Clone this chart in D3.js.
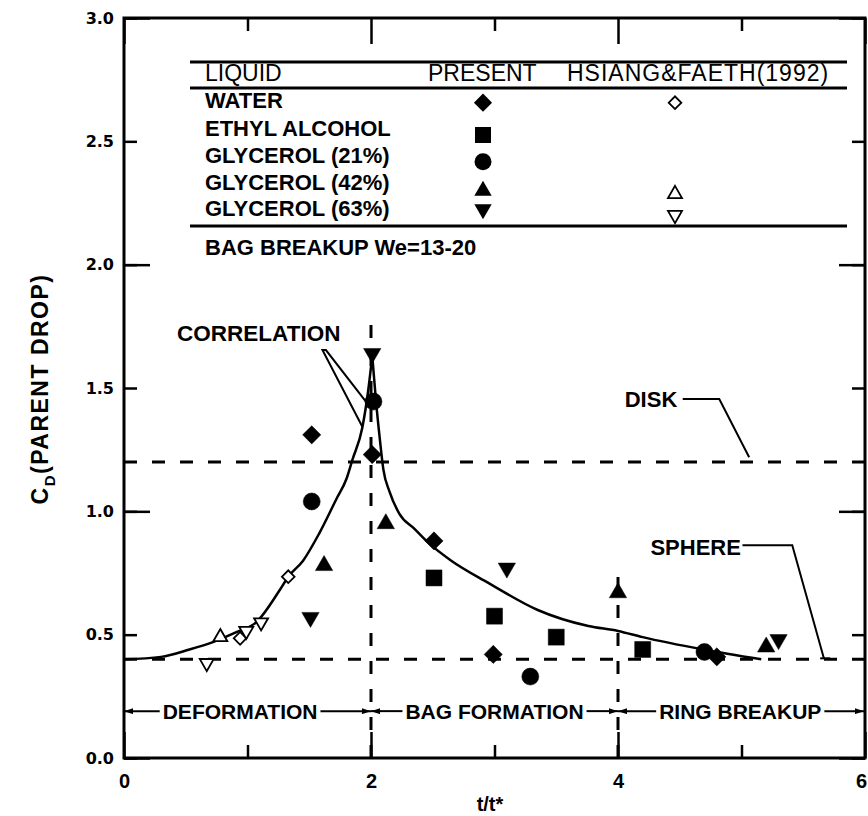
<!DOCTYPE html>
<html>
<head>
<meta charset="utf-8">
<script src="https://cdn.jsdelivr.net/npm/d3@7"></script>
<style>
  body { margin: 0; background: #fff; }
  text { font-family: "Liberation Sans", Arial, sans-serif; fill: #000; }
</style>
</head>
<body>
<svg id="chart" width="868" height="816"></svg>
<script>
// present study: [t/t*, C_D]
const water = [[1.52, 1.31], [2.01, 1.23], [2.51, 0.88], [2.99, 0.42], [4.80, 0.41]];
const ethylAlcohol = [[2.51, 0.73], [3.00, 0.575], [3.50, 0.49], [4.20, 0.44]];
const glycerol21 = [[1.52, 1.04], [2.02, 1.445], [3.29, 0.33], [4.70, 0.43]];
const glycerol42 = [[1.62, 0.78], [2.12, 0.95], [4.00, 0.67], [5.20, 0.45]];
const glycerol63 = [[1.51, 0.57], [2.01, 1.64], [3.10, 0.77], [5.30, 0.48]];

// Hsiang & Faeth (1992), open symbols
const hfWater = [[0.94, 0.485], [1.33, 0.735]];
const hfGlycerol42 = [[0.78, 0.49]];
const hfGlycerol63 = [[0.67, 0.385], [0.99, 0.515], [1.11, 0.55]];

// correlation curve, two branches meeting at the peak
const corrRise = [[0, 0.40], [0.3, 0.41], [0.53, 0.44], [0.72, 0.47], [0.91, 0.51], [1.07, 0.55],
  [1.26, 0.68], [1.33, 0.735], [1.45, 0.80], [1.58, 0.91], [1.72, 1.05], [1.80, 1.13],
  [1.85, 1.21], [1.93, 1.34], [1.98, 1.50], [2.01, 1.63]];
const corrFall = [[2.01, 1.63], [2.04, 1.45], [2.07, 1.30], [2.10, 1.17], [2.15, 1.08], [2.23, 0.99],
  [2.35, 0.93], [2.47, 0.87], [2.65, 0.80], [2.95, 0.71], [3.35, 0.60], [3.76, 0.535],
  [4.0, 0.515], [4.2, 0.49], [4.69, 0.44], [5.16, 0.40]];

// reference levels and regime boundaries
const diskCd = 1.2;
const sphereCd = 0.4;
const regimeLines = [[2, 1.77], [4, 0.75]];
const regimes = ["DEFORMATION", "BAG FORMATION", "RING BREAKUP"];
const regimeBounds = [[0, 2], [2, 4], [4, 6]];
const regimeCenters = [0.94, 3.0, 4.99];
const regimeLevel = 0.19;

// ticks
const xLabelTicks = [0, 2, 4, 6];
const xMinorTicks = [1, 3, 5];
const yLabelTicks = [0, 0.5, 1, 1.5, 2, 2.5, 3];
const yMajorTicks = [0, 1, 2, 3];

// legend
const legendHeader = ["LIQUID", "PRESENT", "HSIANG&FAETH(1992)"];
const liquids = ["WATER", "ETHYL ALCOHOL", "GLYCEROL (21%)", "GLYCEROL (42%)", "GLYCEROL (63%)"];
const presentShapes = ["diamond", "square", "circle", "up", "down"];

const svg = d3.select("#chart");
const x = d3.scaleLinear().domain([0, 6]).range([124, 865]);
const y = d3.scaleLinear().domain([0, 3]).range([758, 18]);

// symbol helper
function symbolPath(kind, area) {
  const type = {diamond: d3.symbolSquare, square: d3.symbolSquare, circle: d3.symbolCircle,
    up: d3.symbolTriangle, down: d3.symbolTriangle}[kind];
  return d3.symbol(type, area)();
}
const rot = {diamond: 45, square: 0, circle: 0, up: 0, down: 180};
const filledArea = {diamond: 165, square: 256, circle: 227, up: 130, down: 130};
const openArea = {diamond: 80, up: 85, down: 85};

function drawPoints(g, data, kind, filled) {
  g.selectAll(null).data(data).enter().append("path")
    .attr("d", symbolPath(kind, filled ? filledArea[kind] : openArea[kind]))
    .attr("transform", d => `translate(${x(d[0])},${y(d[1])}) rotate(${rot[kind]})`)
    .attr("fill", filled ? "#000" : "#fff")
    .attr("stroke", "#000")
    .attr("stroke-width", filled ? 0.5 : 1.8);
}

// dashed reference lines
const guides = svg.append("g").attr("stroke", "#000").attr("stroke-width", 3)
  .attr("stroke-dasharray", "13,15");
[diskCd, sphereCd].forEach(v => {
  guides.append("line").attr("x1", x(0)).attr("x2", x(6)).attr("y1", y(v)).attr("y2", y(v));
});
regimeLines.forEach(([xv, top]) => {
  guides.append("line").attr("x1", x(xv)).attr("x2", x(xv)).attr("y1", y(0)).attr("y2", y(top));
});

// correlation curve
const line = d3.line().x(d => x(d[0])).y(d => y(d[1])).curve(d3.curveMonotoneX);
[corrRise, corrFall].forEach(branch => {
  svg.append("path").attr("d", line(branch)).attr("fill", "none")
    .attr("stroke", "#000").attr("stroke-width", 2.5);
});

// data
const pts = svg.append("g");
drawPoints(pts, hfWater, "diamond", false);
drawPoints(pts, hfGlycerol42, "up", false);
drawPoints(pts, hfGlycerol63, "down", false);
drawPoints(pts, water, "diamond", true);
drawPoints(pts, ethylAlcohol, "square", true);
drawPoints(pts, glycerol21, "circle", true);
drawPoints(pts, glycerol42, "up", true);
drawPoints(pts, glycerol63, "down", true);

// frame and ticks
function styleAxis(g) {
  g.select(".domain").remove();
  g.selectAll(".tick line").attr("stroke", "#000").attr("stroke-width", 2.5);
}
svg.append("g").attr("transform", `translate(${x(0)},0)`)
  .call(d3.axisLeft(y).tickValues(yLabelTicks).tickFormat(d3.format(".1f")).tickSizeInner(-13).tickSizeOuter(0).tickPadding(10))
  .call(styleAxis)
  .selectAll("text").style("font-family", "'DejaVu Sans', sans-serif").style("font-weight", "bold").style("font-size", "16px");
svg.append("g").attr("transform", `translate(${x(0)},0)`)
  .call(d3.axisLeft(y).tickValues(yMajorTicks).tickFormat("").tickSize(-26)).call(styleAxis);
svg.append("g").attr("transform", `translate(${x(6)},0)`)
  .call(d3.axisRight(y).tickValues(yLabelTicks).tickFormat("").tickSize(-13)).call(styleAxis);
svg.append("g").attr("transform", `translate(${x(6)},0)`)
  .call(d3.axisRight(y).tickValues(yMajorTicks).tickFormat("").tickSize(-26)).call(styleAxis);

svg.append("g").attr("transform", `translate(0,${y(0)})`)
  .call(d3.axisBottom(x).tickValues(xLabelTicks).tickFormat(d3.format("d")).tickSizeInner(-26).tickSizeOuter(0).tickPadding(16))
  .call(styleAxis)
  .selectAll("text")
  .style("font-family", "'Liberation Sans', Arial, sans-serif").style("font-weight", "bold").style("font-size", "20px")
  .attr("dx", d => d === 6 ? -4 : 0);
svg.append("g").attr("transform", `translate(0,${y(0)})`)
  .call(d3.axisBottom(x).tickValues(xMinorTicks).tickFormat("").tickSize(-13)).call(styleAxis);
svg.append("g").attr("transform", `translate(0,${y(3)})`)
  .call(d3.axisTop(x).tickValues(xLabelTicks).tickFormat("").tickSize(-26)).call(styleAxis);
svg.append("g").attr("transform", `translate(0,${y(3)})`)
  .call(d3.axisTop(x).tickValues(xMinorTicks).tickFormat("").tickSize(-13)).call(styleAxis);

svg.append("rect").attr("x", x(0)).attr("y", y(3)).attr("width", x(6) - x(0)).attr("height", y(0) - y(3))
  .attr("fill", "none").attr("stroke", "#000").attr("stroke-width", 3);

// axis titles
svg.append("text").attr("x", 490).attr("y", 811).attr("text-anchor", "middle")
  .attr("font-weight", "bold").attr("font-size", 20).text("t/t*");
const yTitle = svg.append("text").attr("transform", "translate(48,389) rotate(-90)")
  .attr("text-anchor", "middle").attr("font-weight", "bold").attr("font-size", 23)
  .attr("letter-spacing", 1.5);
yTitle.append("tspan").text("C");
yTitle.append("tspan").attr("dy", 7).attr("font-size", 15).text("D");
yTitle.append("tspan").attr("dy", -7).text("(PARENT DROP)");

// annotations
const ann = svg.append("g").attr("stroke", "#000").attr("stroke-width", 2).attr("fill", "none");
const ptLine = d3.line().x(d => x(d[0])).y(d => y(d[1]));
ann.append("path").attr("d", ptLine([[1.930, 1.343], [1.607, 1.654], [1.635, 1.654], [1.970, 1.438]]));
ann.append("path").attr("d", ptLine([[4.524, 1.455], [4.820, 1.455], [5.062, 1.219]]));
ann.append("path").attr("d", ptLine([[5.008, 0.863], [5.411, 0.863], [5.667, 0.404]]));
ann.append("path").attr("d", ptLine([[5.637, 0.404], [5.718, 0.404]]));

svg.append("text").attr("x", x(0.43)).attr("y", y(1.723)).attr("dy", "0.36em")
  .attr("font-weight", "bold").attr("font-size", 22.5).text("CORRELATION");
svg.append("text").attr("x", x(4.48)).attr("y", y(1.455)).attr("dy", "0.36em").attr("text-anchor", "end")
  .attr("font-weight", "bold").attr("font-size", 22).text("DISK");
svg.append("text").attr("x", x(4.995)).attr("y", y(0.855)).attr("dy", "0.36em").attr("text-anchor", "end")
  .attr("font-weight", "bold").attr("font-size", 22).text("SPHERE");

// regime arrows
svg.append("defs").append("marker").attr("id", "arrow")
  .attr("viewBox", "0 0 9 6").attr("refX", 9).attr("refY", 3)
  .attr("markerWidth", 9).attr("markerHeight", 6).attr("markerUnits", "userSpaceOnUse")
  .attr("orient", "auto-start-reverse")
  .append("path").attr("d", "M0,0L9,3L0,6Z").attr("fill", "#000");

regimes.forEach((label, i) => {
  const [a, b] = regimeBounds[i];
  const t = svg.append("text").attr("x", x(regimeCenters[i])).attr("y", y(regimeLevel)).attr("dy", "0.36em")
    .attr("text-anchor", "middle").attr("font-weight", "bold").attr("font-size", 21).text(label);
  const w = t.node().getComputedTextLength();
  const left = x(regimeCenters[i]) - w / 2 - 3, right = x(regimeCenters[i]) + w / 2 + 3;
  svg.append("line").attr("x1", left).attr("x2", x(a)).attr("y1", y(regimeLevel)).attr("y2", y(regimeLevel))
    .attr("stroke", "#000").attr("stroke-width", 2).attr("marker-end", "url(#arrow)");
  svg.append("line").attr("x1", right).attr("x2", x(b) - (i === 2 ? 1 : 0)).attr("y1", y(regimeLevel)).attr("y2", y(regimeLevel))
    .attr("stroke", "#000").attr("stroke-width", 2).attr("marker-end", "url(#arrow)");
});

// legend table
const lg = svg.append("g");
[62, 88, 226].forEach(ry => {
  lg.append("line").attr("x1", 190).attr("x2", 847).attr("y1", ry).attr("y2", ry)
    .attr("stroke", "#000").attr("stroke-width", 3);
});
const headerX = [205, 428, 567];
const headerSpacing = [0, 0, 1];
legendHeader.forEach((h, i) => {
  lg.append("text").attr("x", headerX[i]).attr("y", 73).attr("dy", "0.36em")
    .attr("font-size", 23).attr("letter-spacing", headerSpacing[i]).text(h);
});
const rowY = [100, 127.7, 155, 181.7, 208];
liquids.forEach((name, i) => {
  lg.append("text").attr("x", 205).attr("y", rowY[i]).attr("dy", "0.36em")
    .attr("font-weight", "bold").attr("font-size", 22).text(name);
});
const presentY = [102.7, 135, 161.7, 190.7, 209.3];
presentShapes.forEach((s, i) => {
  lg.append("path").attr("d", symbolPath(s, filledArea[s]))
    .attr("transform", `translate(483,${presentY[i]}) rotate(${rot[s]})`).attr("fill", "#000");
});
[["diamond", 102.7], ["up", 194], ["down", 215]].forEach(([s, sy]) => {
  lg.append("path").attr("d", symbolPath(s, openArea[s]))
    .attr("transform", `translate(675,${sy}) rotate(${rot[s]})`)
    .attr("fill", "#fff").attr("stroke", "#000").attr("stroke-width", 1.8);
});
lg.append("text").attr("x", 205).attr("y", 246.7).attr("dy", "0.36em")
  .attr("font-weight", "bold").attr("font-size", 22).text("BAG BREAKUP We=13-20");
</script>
</body>
</html>
